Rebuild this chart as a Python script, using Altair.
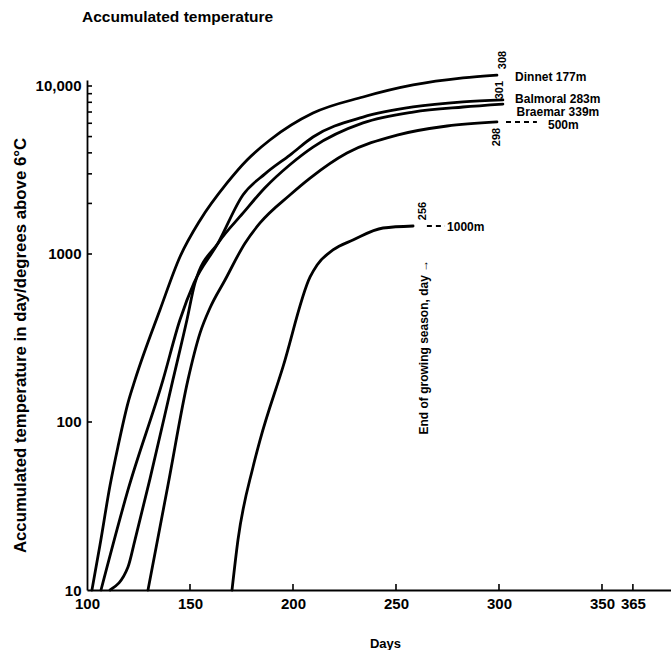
import altair as alt
import pandas as pd

# ---- Curve readings: day of year vs accumulated temperature (day-degrees above 6°C)
dinnet_days = [102.4, 106.3, 111.2, 115.0, 119.9, 123.3, 135.4, 145.1, 154.9, 168.0,
               177.7, 188.8, 209.7, 234.0, 258.3, 282.5, 299.0]
dinnet_vals = [10, 18.5, 42, 71, 130, 178, 464, 960, 1590, 2650,
               3630, 4770, 6900, 8600, 10140, 11170, 11620]

balmoral_days = [106.8, 119.9, 136.9, 145.1, 151.9, 163.6, 175.7, 186.4, 198.5, 209.7,
                 234.0, 258.3, 282.5, 301.9]
balmoral_vals = [10, 39.4, 178, 405, 671, 1160, 2245, 3000, 3880, 4970,
                 6530, 7500, 8040, 8260]

braemar_days = [111.2, 119.9, 123.3, 130.6, 141.7, 148.5, 152.4, 163.6, 175.7, 186.4,
                198.5, 209.7, 234.0, 258.3, 282.5, 301.9]
braemar_vals = [10, 13.7, 19.9, 46, 178, 405, 671, 1160, 1750, 2480,
                3400, 4330, 6030, 7000, 7500, 7810]

m500_days = [129.6, 139.3, 149.0, 154.9, 159.7, 167.0, 176.7, 184.0, 198.5,
             208.3, 226.2, 250.5, 274.8, 299.0]
m500_vals = [10, 42, 178, 339, 477, 700, 1160, 1530, 2245,
             2830, 3990, 5100, 5780, 6110]

m1000_days = [170.4, 173.3, 180.6, 184.0, 195.1, 208.3, 211.7, 219.4, 229.1, 243.7, 258.3]
m1000_vals = [10, 19.9, 54, 78, 212, 730, 861, 1057, 1211, 1428, 1468]

series_names = ["Dinnet 177m", "Balmoral 283m", "Braemar 339m", "500m", "1000m"]

# dashed extensions
dash_series = ["500m", "1000m"]
dash_start = [303.4, 265.0]
dash_end = [318.4, 273.8]
dash_vals = [6110, 1468]

# curve labels
label_text = ["Dinnet 177m", "Balmoral 283m", "Braemar 339m", "500m", "1000m"]
label_days = [307.8, 307.8, 308.5, 323.8, 274.8]
label_vals = [11330, 8380, 7050, 5860, 1449]

# end of growing season day labels (vertical)
end_text = ["308", "301", "298", "256"]
end_days = [301.9, 300.5, 299.0, 263.1]
end_vals = [14290, 9450, 4970, 1803]

note_text = ["End of growing season, day \u2192"]
note_days = [263.6]
note_vals = [279]

# axis ticks
x_tick_values = [100, 150, 200, 250, 300, 350, 365]
x_inner_ticks = [150, 200, 250, 300, 350, 365]
y_tick_values = [10, 100, 1000, 10000]
y_inner_ticks = [100, 1000, 2000, 3000, 4000, 5000, 6000, 7000, 8000, 9000, 10000]

# ---- tables
rows = []
for name, ds, vs in zip(series_names,
                        [dinnet_days, balmoral_days, braemar_days, m500_days, m1000_days],
                        [dinnet_vals, balmoral_vals, braemar_vals, m500_vals, m1000_vals]):
    for d, v in zip(ds, vs):
        rows.append({"series": name, "day": d, "value": v})
curves = pd.DataFrame(rows)
dashes = pd.DataFrame({"series": dash_series, "start": dash_start, "end": dash_end, "value": dash_vals})
labels = pd.DataFrame({"text": label_text, "day": label_days, "value": label_vals})
ends = pd.DataFrame({"text": end_text, "day": end_days, "value": end_vals})
note = pd.DataFrame({"text": note_text, "day": note_days, "value": note_vals})
xt = pd.DataFrame({"day": x_inner_ticks})
yt = pd.DataFrame({"value": y_inner_ticks})

FONT = "Liberation Sans"

x_scale = alt.Scale(domain=[100, 383.5], nice=False, zero=False)
y_scale = alt.Scale(type="log", domain=[10, 10857], nice=False)

x_axis = alt.Axis(values=x_tick_values, ticks=False, grid=False,
                  labelFontSize=15, labelFontWeight="bold", labelColor="black",
                  labelPadding=6, domainColor="black", domainWidth=1.8,
                  title="Days", titleFontSize=13, titleFontWeight="bold",
                  titleColor="black", titleX=298, titleY=53,
                  titleBaseline="middle", labelFlush=False)
y_axis = alt.Axis(values=y_tick_values, ticks=False, grid=False,
                  labelExpr="datum.value >= 10000 ? '10,000' : format(datum.value, 'd')",
                  labelFontSize=15, labelFontWeight="bold", labelColor="black",
                  labelPadding=6, domainColor="black", domainWidth=1.8,
                  title="Accumulated temperature in day/degrees above 6\u00b0C",
                  titleFontSize=16.8, titleFontWeight="bold", titleColor="black",
                  titleAngle=270, titleX=-67, titleY=265, titleAlign="center",
                  titleBaseline="middle", labelFlush=False)


def X(field):
    return alt.X(field, scale=x_scale, axis=x_axis)


def Y(field):
    return alt.Y(field, scale=y_scale, axis=y_axis)


lines = alt.Chart(curves).mark_line(
    color="black", strokeWidth=2.8, interpolate="monotone", strokeCap="round"
).encode(
    x=X("day:Q"),
    y=Y("value:Q"),
    detail="series:N",
)

dash_layer = alt.Chart(dashes).mark_rule(
    color="black", strokeWidth=2, strokeDash=[5, 4]
).encode(
    x=X("start:Q"),
    x2="end:Q",
    y=Y("value:Q"),
)

label_layer = alt.Chart(labels).mark_text(
    align="left", baseline="middle", fontSize=12, fontWeight="bold", font=FONT, color="black"
).encode(
    x=X("day:Q"),
    y=Y("value:Q"),
    text="text:N",
)

end_layer = alt.Chart(ends).mark_text(
    align="center", baseline="middle", angle=270, fontSize=11, fontWeight="bold",
    font=FONT, color="black"
).encode(
    x=X("day:Q"),
    y=Y("value:Q"),
    text="text:N",
)

note_layer = alt.Chart(note).mark_text(
    align="center", baseline="middle", angle=270, fontSize=12, fontWeight="bold",
    font=FONT, color="black"
).encode(
    x=X("day:Q"),
    y=Y("value:Q"),
    text="text:N",
)

x_ticks = alt.Chart(xt).mark_rule(color="black", strokeWidth=1.6).encode(
    x=X("day:Q"),
    y=alt.value(510),
    y2=alt.value(504),
)

y_ticks = alt.Chart(yt).mark_rule(color="black", strokeWidth=1.6).encode(
    y=Y("value:Q"),
    x=alt.value(0),
    x2=alt.value(5),
)

chart = alt.layer(
    lines, dash_layer, label_layer, end_layer, note_layer, x_ticks, y_ticks
).properties(
    width=584,
    height=510,
    autosize=alt.AutoSizeParams(type="none"),
    padding={"left": 87, "top": 80, "right": 0, "bottom": 60},
    title=alt.TitleParams(
        "Accumulated temperature", anchor="start", frame="group", fontSize=15.5,
        fontWeight="bold", font=FONT, color="black", dx=-5, offset=25,
    ),
).configure(
    font=FONT,
    background="white",
).configure_view(
    strokeWidth=0,
)

chart.save("out.html", embed_options={"renderer": "svg", "actions": False})
